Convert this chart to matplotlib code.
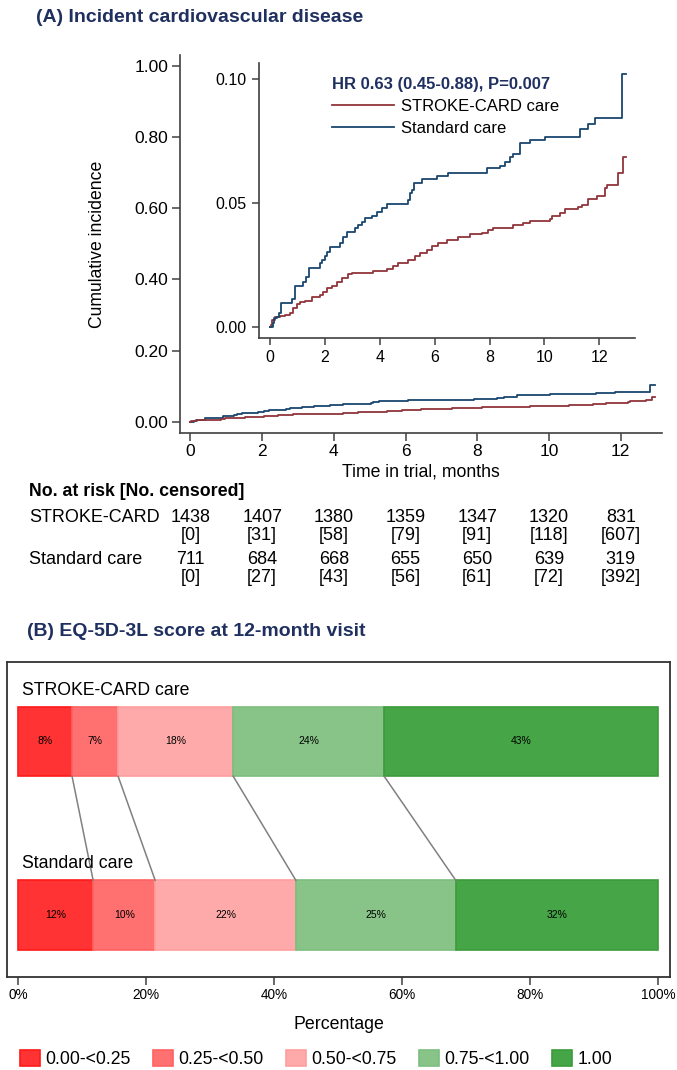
import numpy as np
import matplotlib
matplotlib.use('Agg')
import matplotlib.pyplot as plt
from matplotlib.patches import Patch
from matplotlib.transforms import blended_transform_factory

plt.rcParams['font.family'] = ['Liberation Sans', 'DejaVu Sans']

# ---- data: panel A (Kaplan-Meier cumulative incidence)
t_std = [0, 0.10, 0.15, 0.25, 0.33, 0.40, 0.79, 0.91, 1.21, 1.31, 1.43, 1.82, 1.88,
         2.00, 2.06, 2.19, 2.55, 2.67, 2.79, 3.10, 3.22, 3.34, 3.46, 3.70, 3.89,
         4.07, 4.25, 5.04, 5.10, 5.16, 5.26, 5.53, 6.07, 6.50, 7.90, 8.38, 8.56,
         8.75, 8.87, 9.11, 9.47, 10.02, 11.30, 11.60, 11.84, 12.81, 12.96]
ci_std = [0, 0.0016, 0.0036, 0.0043, 0.0058, 0.0097, 0.0113, 0.0168, 0.0184, 0.0204,
          0.0238, 0.0258, 0.0270, 0.0285, 0.0305, 0.0325, 0.0338, 0.0365, 0.0383,
          0.0400, 0.0410, 0.0425, 0.0440, 0.0450, 0.0466, 0.0480, 0.0497, 0.0513,
          0.0540, 0.0553, 0.0580, 0.0596, 0.0610, 0.0623, 0.0640, 0.0650, 0.0667,
          0.0685, 0.0697, 0.0740, 0.0754, 0.0768, 0.0800, 0.0819, 0.0842, 0.1020, 0.1020]

t_sc = [0, 0.02, 0.06, 0.18, 0.36, 0.55, 0.73, 0.85, 0.97, 1.09, 1.28, 1.52, 1.82,
        1.94, 2.06, 2.25, 2.43, 2.61, 2.85, 2.98, 3.77, 4.25, 4.49, 4.68, 5.04, 5.28,
        5.47, 5.71, 5.89, 6.13, 6.44, 6.86, 7.29, 7.71, 7.96, 8.14, 8.87, 9.23, 9.47,
        10.20, 10.26, 10.56, 10.75, 11.23, 11.36, 11.60, 11.90, 12.20, 12.27, 12.69,
        12.87, 12.96]
ci_sc = [0, 0.0010, 0.0030, 0.0040, 0.0046, 0.0050, 0.0059, 0.0077, 0.0093, 0.0100,
         0.0107, 0.0123, 0.0130, 0.0144, 0.0157, 0.0168, 0.0184, 0.0200, 0.0213,
         0.0217, 0.0228, 0.0234, 0.0247, 0.0260, 0.0271, 0.0285, 0.0300, 0.0310,
         0.0328, 0.0338, 0.0350, 0.0365, 0.0376, 0.0380, 0.0390, 0.0400, 0.0410,
         0.0419, 0.0428, 0.0435, 0.0448, 0.0462, 0.0475, 0.0486, 0.0493, 0.0515,
         0.0530, 0.0560, 0.0573, 0.0620, 0.0687, 0.0687]

risk_times = [0, 2, 4, 6, 8, 10, 12]
risk_sc = [1438, 1407, 1380, 1359, 1347, 1320, 831]
cens_sc = [0, 31, 58, 79, 91, 118, 607]
risk_std = [711, 684, 668, 655, 650, 639, 319]
cens_std = [0, 27, 43, 56, 61, 72, 392]

# ---- data: panel B (EQ-5D-3L categories, %)
eq_groups = ['STROKE-CARD care', 'Standard care']
eq_cats = ['0.00-<0.25', '0.25-<0.50', '0.50-<0.75', '0.75-<1.00', '1.00']
eq_sc = [8.4, 7.2, 18.0, 23.6, 42.8]
eq_std = [11.7, 9.7, 22.0, 25.0, 31.6]

navy = '#1F3060'
c_std = '#1A476F'
c_sc = '#90353B'
axc = '#404040'
W, H = 677, 1070

fig = plt.figure(figsize=(W / 100, H / 100), dpi=100)


def box(l, t, r, b):
    return [l / W, 1 - b / H, (r - l) / W, (b - t) / H]


def style_axes(ax, fs):
    for s in ['top', 'right']:
        ax.spines[s].set_visible(False)
    for s in ['left', 'bottom']:
        ax.spines[s].set_color(axc)
        ax.spines[s].set_linewidth(1.2)
    ax.tick_params(colors='black', labelsize=fs, width=1.1, length=6, color=axc, pad=2)


# ---- panel A main axes
fig.text(36 / W, 1 - 17 / H, '(A) Incident cardiovascular disease', fontsize=14,
         fontweight='bold', color=navy, ha='left', va='center')

ax = fig.add_axes(box(179.5, 55, 662, 433))
ax.plot(t_std, ci_std, drawstyle='steps-post', color=c_std, lw=1.3)
ax.plot(t_sc, ci_sc, drawstyle='steps-post', color=c_sc, lw=1.3)
ax.set_xlim(-0.304, 13.15)
ax.set_ylim(-0.0318, 1.0315)
ax.set_yticks([0, 0.2, 0.4, 0.6, 0.8, 1.0])
ax.set_yticklabels(['%.2f' % v for v in ax.get_yticks()])
ax.set_xticks(risk_times)
style_axes(ax, 12.5)
ax.set_xlabel('Time in trial, months', fontsize=12.7, labelpad=3)
fig.text(97 / W, 1 - 244 / H, 'Cumulative incidence', rotation=90, fontsize=12.7,
         ha='center', va='center')

# ---- inset
axi = fig.add_axes(box(259, 63, 635, 337.7))
axi.set_facecolor('none')
axi.plot(t_sc, ci_sc, drawstyle='steps-post', color=c_sc, lw=1.3, label='STROKE-CARD care')
axi.plot(t_std, ci_std, drawstyle='steps-post', color=c_std, lw=1.3, label='Standard care')
axi.set_xlim(-0.40, 13.30)
axi.set_ylim(-0.0042, 0.1064)
axi.set_yticks([0, 0.05, 0.10])
axi.set_yticklabels(['0.00', '0.05', '0.10'])
axi.set_xticks(risk_times)
style_axes(axi, 11.5)
axi.tick_params(length=5, pad=4)
leg = axi.legend(loc='upper left', bbox_to_anchor=(332 / W, 1 - 77 / H),
                 bbox_transform=fig.transFigure, frameon=False, fontsize=12,
                 title='HR 0.63 (0.45-0.88), P=0.007', alignment='left',
                 handlelength=3.7, handletextpad=0.45, labelspacing=0.4,
                 borderpad=0, borderaxespad=0)
leg.get_title().set_fontweight('bold')
leg.get_title().set_color(navy)
leg.get_title().set_fontsize(12)
leg._legend_box.sep = 5

# ---- number at risk table
tr = blended_transform_factory(ax.transData, fig.transFigure)
fig.text(29 / W, 1 - 492 / H, 'No. at risk [No. censored]', fontsize=12.8,
         fontweight='bold', ha='left', va='center')
fig.text(29 / W, 1 - 517 / H, 'STROKE-CARD', fontsize=13, ha='left', va='center')
fig.text(29 / W, 1 - 560 / H, 'Standard care', fontsize=13, ha='left', va='center')
for t, n1, c1, n2, c2 in zip(risk_times, risk_sc, cens_sc, risk_std, cens_std):
    fig.text(t, 1 - 517 / H, str(n1), transform=tr, fontsize=13, ha='center', va='center')
    fig.text(t, 1 - 535 / H, '[%d]' % c1, transform=tr, fontsize=13, ha='center', va='center')
    fig.text(t, 1 - 560 / H, str(n2), transform=tr, fontsize=13, ha='center', va='center')
    fig.text(t, 1 - 578 / H, '[%d]' % c2, transform=tr, fontsize=13, ha='center', va='center')

# ---- panel B
fig.text(27 / W, 1 - 632 / H, '(B) EQ-5D-3L score at 12-month visit', fontsize=14,
         fontweight='bold', color=navy, ha='left', va='center')

face = ['#FF3333', '#FF7070', '#FFAAAA', '#88C488', '#46A546']
edge = ['#FF1A1A', '#FF6262', '#FF9E9E', '#7DBD7D', '#3C9C3C']

axb = fig.add_axes(box(7, 662, 670, 977))
bar_h = 0.4
for gi, vals in enumerate([eq_sc, eq_std]):
    left = 0
    for ci, v in enumerate(vals):
        axb.barh(gi, v, left=left, height=bar_h, color=face[ci], edgecolor=edge[ci], lw=1.2)
        axb.text(left + v / 2, gi, '%.0f%%' % v, ha='center', va='center', fontsize=7.5)
        left += v
    axb.text(0.5, gi - 0.295, eq_groups[gi], ha='left', va='center', fontsize=12.7)

cum_sc = np.cumsum(eq_sc)[:-1]
cum_std = np.cumsum(eq_std)[:-1]
for a, b in zip(cum_sc, cum_std):
    axb.plot([a, b], [bar_h / 2, 1 - bar_h / 2], color='#808080', lw=1.1)

axb.set_xlim(-1.77, 101.9)
axb.set_ylim(1.357, -0.458)
axb.set_yticks([])
axb.set_xticks([0, 20, 40, 60, 80, 100])
axb.set_xticklabels(['%d%%' % v for v in [0, 20, 40, 60, 80, 100]])
for s in axb.spines.values():
    s.set_color('#333333')
    s.set_linewidth(1.3)
axb.tick_params(axis='x', labelsize=9.8, length=6, width=1.1, color=axc, pad=2)
axb.set_xlabel('Percentage', fontsize=12.8, labelpad=10)

handles = [Patch(facecolor=face[i], edgecolor=edge[i], lw=1.2, label=eq_cats[i])
           for i in range(5)]
fig.legend(handles=handles, loc='center left', bbox_to_anchor=(20 / W, 1 - 1059 / H),
           ncol=5, frameon=False, fontsize=12.7, handlelength=1.15, handleheight=1.0,
           handletextpad=0.3, columnspacing=1.25, borderpad=0, borderaxespad=0)

fig.savefig('out.png', dpi=100, facecolor='white')
